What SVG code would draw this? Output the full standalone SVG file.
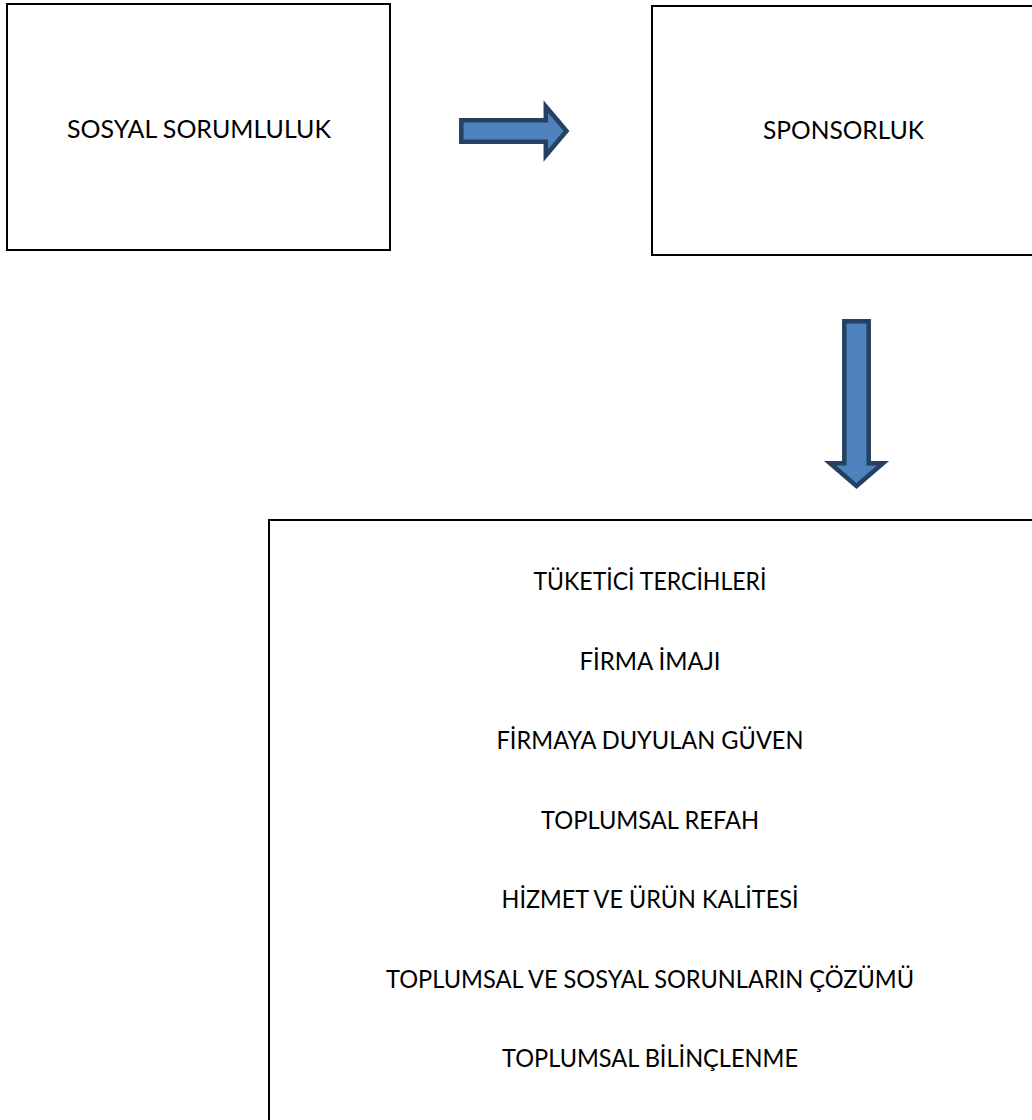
<svg xmlns="http://www.w3.org/2000/svg" width="1032" height="1120" viewBox="0 0 1032 1120">
<style>
.box{fill:#ffffff;stroke:#000000;stroke-width:2}
.lbl{font-family:Lato,"Open Sans","Liberation Sans",sans-serif;font-size:25px;fill:#000000;text-anchor:middle}
.arrow{fill:#4F81BD;stroke:#254061;stroke-width:4.5;stroke-linejoin:miter}
</style>
<rect width="1032" height="1120" fill="#ffffff"/>
<g id="node-sosyal-sorumluluk">
<rect class="box" x="7" y="4" width="383" height="246"/>
<text class="lbl" x="199" y="138" textLength="264" lengthAdjust="spacingAndGlyphs">SOSYAL SORUMLULUK</text>
</g>
<g id="node-sponsorluk">
<rect class="box" x="652" y="6" width="383" height="249"/>
<text class="lbl" x="843.5" y="139" textLength="161" lengthAdjust="spacingAndGlyphs">SPONSORLUK</text>
</g>
<g id="node-sonuclar">
<rect class="box" x="269" y="520" width="766" height="640"/>
<text class="lbl" x="650" y="590" textLength="233" lengthAdjust="spacingAndGlyphs">TÜKETİCİ TERCİHLERİ</text>
<text class="lbl" x="650" y="669.5" textLength="141" lengthAdjust="spacingAndGlyphs">FİRMA İMAJI</text>
<text class="lbl" x="650" y="749" textLength="307" lengthAdjust="spacingAndGlyphs">FİRMAYA DUYULAN GÜVEN</text>
<text class="lbl" x="650" y="828.5" textLength="218" lengthAdjust="spacingAndGlyphs">TOPLUMSAL REFAH</text>
<text class="lbl" x="650" y="908" textLength="297" lengthAdjust="spacingAndGlyphs">HİZMET VE ÜRÜN KALİTESİ</text>
<text class="lbl" x="650" y="987.5" textLength="528" lengthAdjust="spacingAndGlyphs">TOPLUMSAL VE SOSYAL SORUNLARIN ÇÖZÜMÜ</text>
<text class="lbl" x="650" y="1067" textLength="296" lengthAdjust="spacingAndGlyphs">TOPLUMSAL BİLİNÇLENME</text>
</g>
<g id="connectors">
<polygon class="arrow" points="461.3,120.3 545.8,120.3 545.8,106.5 566.5,131 545.8,155.5 545.8,141.7 461.3,141.7"/>
<polygon class="arrow" points="844.3,321.3 868.7,321.3 868.7,463.3 883,463.3 856.5,486 830,463.3 844.3,463.3"/>
</g>
</svg>
